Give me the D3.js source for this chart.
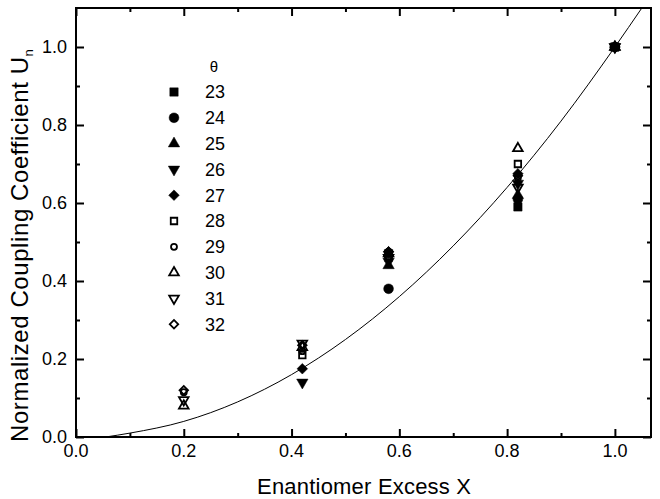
<!DOCTYPE html>
<html>
<head>
<meta charset="utf-8">
<title>Normalized Coupling Coefficient vs Enantiomer Excess</title>
<script src="https://cdn.jsdelivr.net/npm/d3@7"></script>
<style>
    body { margin: 0; background: #fff; }
    text { font-family: "Liberation Sans", Arial, Helvetica, sans-serif; fill: #000; }
    .ticklabel { font-size: 18px; }
    .axistitle { font-size: 22px; }
    .legend text { font-size: 18px; }
</style>
</head>
<body>
<script>
    // theta values (legend)
    var thetas = [23, 24, 25, 26, 27, 28, 29, 30, 31, 32];

    // enantiomer excess X for each theta
    var xs23 = [0.58, 0.82, 1.0];
    var xs24 = [0.58, 0.82, 1.0];
    var xs25 = [0.58, 0.82, 1.0];
    var xs26 = [0.42, 0.58, 0.82, 1.0];
    var xs27 = [0.42, 0.58, 0.82, 1.0];
    var xs28 = [0.42, 0.58, 0.82, 1.0];
    var xs29 = [0.2, 0.42, 0.58, 0.82, 1.0];
    var xs30 = [0.2, 0.42, 0.58, 0.82, 1.0];
    var xs31 = [0.2, 0.42, 0.58, 0.82, 1.0];
    var xs32 = [0.2, 0.42, 0.58, 0.82, 1.0];

    // normalized coupling coefficient Un
    var un23 = [0.47, 0.59, 1.0];
    var un24 = [0.38, 0.61, 1.0];
    var un25 = [0.44, 0.62, 1.0];
    var un26 = [0.14, 0.45, 0.65, 1.0];
    var un27 = [0.175, 0.475, 0.675, 1.0];
    var un28 = [0.21, 0.46, 0.70, 1.0];
    var un29 = [0.115, 0.22, 0.475, 0.665, 1.0];
    var un30 = [0.08, 0.23, 0.47, 0.74, 1.0];
    var un31 = [0.095, 0.24, 0.46, 0.64, 1.0];
    var un32 = [0.12, 0.235, 0.475, 0.67, 1.0];

    // fit curve
    var curveX = [0.055, 0.1, 0.2, 0.3, 0.4, 0.5, 0.6, 0.7, 0.8, 0.9, 1.0, 1.05];
    var curveY = [0.0, 0.01, 0.04, 0.09, 0.16, 0.25, 0.36, 0.49, 0.64, 0.81, 1.0, 1.10];

    var xTicks = [0.0, 0.2, 0.4, 0.6, 0.8, 1.0];
    var yTicks = [0.0, 0.2, 0.4, 0.6, 0.8, 1.0];
    var xMinor = [0.1, 0.3, 0.5, 0.7, 0.9];
    var yMinor = [0.1, 0.3, 0.5, 0.7, 0.9];

    var allX = [xs23, xs24, xs25, xs26, xs27, xs28, xs29, xs30, xs31, xs32];
    var allU = [un23, un24, un25, un26, un27, un28, un29, un30, un31, un32];

    // marker style per theta: symbol, filled?, size (area), rotation
    var marks = [
        {sym: d3.symbolSquare,   fill: true,  size: 70, rot: 0},
        {sym: d3.symbolCircle,   fill: true,  size: 75, rot: 0},
        {sym: d3.symbolTriangle, fill: true,  size: 56, rot: 0},
        {sym: d3.symbolTriangle, fill: true,  size: 56, rot: 180},
        {sym: d3.symbolSquare,   fill: true,  size: 56, rot: 45},
        {sym: d3.symbolSquare,   fill: false, size: 42, rot: 0},
        {sym: d3.symbolCircle,   fill: false, size: 28, rot: 0},
        {sym: d3.symbolTriangle, fill: false, size: 40, rot: 0},
        {sym: d3.symbolTriangle, fill: false, size: 40, rot: 180},
        {sym: d3.symbolSquare,   fill: false, size: 36, rot: 45}
    ];

    var W = 660, H = 499;
    var margin = {left: 76, right: 9, top: 8, bottom: 62};
    var w = W - margin.left - margin.right;
    var h = H - margin.top - margin.bottom;

    var x = d3.scaleLinear().domain([0, 1.067]).range([0, w]);
    var y = d3.scaleLinear().domain([0, 1.1]).range([h, 0]);

    var svg = d3.select("body").append("svg")
        .attr("width", W)
        .attr("height", H);

    svg.append("defs").append("clipPath").attr("id", "plotclip")
        .append("rect").attr("width", w).attr("height", h);

    var g = svg.append("g")
        .attr("transform", "translate(" + margin.left + "," + margin.top + ")");

    // fit curve
    var curvePts = curveX.map(function (d, i) { return [d, curveY[i]]; });
    g.append("path")
        .datum(curvePts)
        .attr("clip-path", "url(#plotclip)")
        .attr("fill", "none")
        .attr("stroke", "#000")
        .attr("stroke-width", 1)
        .attr("d", d3.line()
            .x(function (d) { return x(d[0]); })
            .y(function (d) { return y(d[1]); })
            .curve(d3.curveMonotoneX));

    function drawSymbol(sel, m) {
        sel.attr("d", d3.symbol().type(m.sym).size(m.size))
            .attr("fill", m.fill ? "#000" : "none")
            .attr("stroke", "#000")
            .attr("stroke-width", m.fill ? 0.5 : 1.8);
    }

    // data points
    thetas.forEach(function (t, k) {
        var pts = allX[k].map(function (d, i) { return [d, allU[k][i]]; });
        g.append("g").selectAll("path")
            .data(pts)
            .enter().append("path")
            .attr("transform", function (d) {
                return "translate(" + x(d[0]) + "," + y(d[1]) + ") rotate(" + marks[k].rot + ")";
            })
            .call(drawSymbol, marks[k]);
    });

    // axes: frame with inward ticks on all four sides
    var axisMakers = [
        {make: function () { return d3.axisBottom(x); }, tr: "translate(0," + h + ")", vals: xTicks, minor: xMinor},
        {make: function () { return d3.axisTop(x); }, tr: "translate(0,0)", vals: xTicks, minor: xMinor},
        {make: function () { return d3.axisLeft(y); }, tr: "translate(0,0)", vals: yTicks, minor: yMinor},
        {make: function () { return d3.axisRight(y); }, tr: "translate(" + w + ",0)", vals: yTicks, minor: yMinor}
    ];
    axisMakers.forEach(function (a) {
        var ag = g.append("g").attr("transform", a.tr);
        ag.append("g").call(a.make().tickValues(a.vals).tickSizeInner(-8).tickSizeOuter(0).tickFormat(""));
        ag.append("g").call(a.make().tickValues(a.minor).tickSizeInner(-4).tickSizeOuter(0).tickFormat(""));
        ag.selectAll("path.domain").remove();
        ag.selectAll("line").attr("stroke", "#000").attr("stroke-width", 2);
    });

    g.append("rect")
        .attr("width", w)
        .attr("height", h)
        .attr("fill", "none")
        .attr("stroke", "#000")
        .attr("stroke-width", 2);

    // tick labels
    g.selectAll(".xlab")
        .data(xTicks)
        .enter().append("text")
        .attr("class", "ticklabel")
        .attr("x", function (d) { return x(d); })
        .attr("y", h + 20)
        .attr("text-anchor", "middle")
        .text(function (d) { return d.toFixed(1); });

    g.selectAll(".ylab")
        .data(yTicks)
        .enter().append("text")
        .attr("class", "ticklabel")
        .attr("x", -9)
        .attr("y", function (d) { return y(d); })
        .attr("dy", "0.36em")
        .attr("text-anchor", "end")
        .text(function (d) { return d.toFixed(1); });

    // axis titles
    svg.append("text")
        .attr("class", "axistitle")
        .attr("x", 364)
        .attr("y", 494)
        .attr("text-anchor", "middle")
        .attr("textLength", 214)
        .text("Enantiomer Excess X");

    var yt = svg.append("text")
        .attr("class", "axistitle")
        .attr("transform", "translate(28,442) rotate(-90)")
        .attr("text-anchor", "start")
        .style("font-size", "24px");
    yt.append("tspan").attr("textLength", 385).text("Normalized Coupling Coefficient U");
    yt.append("tspan").attr("dy", 5).style("font-size", "13px").text("n");

    // legend
    var leg = svg.append("g").attr("class", "legend");
    leg.append("text")
        .attr("x", 214)
        .attr("y", 72)
        .attr("text-anchor", "middle")
        .style("font-size", "15px")
        .text("\u03b8");

    thetas.forEach(function (t, k) {
        var ly = 92 + k * 25.8;
        leg.append("path")
            .attr("transform", "translate(174," + ly + ") rotate(" + marks[k].rot + ")")
            .call(drawSymbol, marks[k]);
        leg.append("text")
            .attr("x", 205)
            .attr("y", ly)
            .attr("dy", "0.36em")
            .text(t);
    });
</script>
</body>
</html>
